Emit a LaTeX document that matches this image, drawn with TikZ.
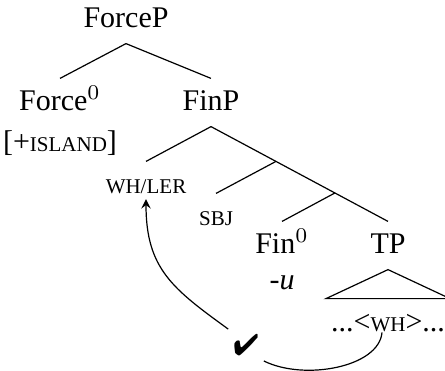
\documentclass[tikz,border=0pt]{standalone}
\usepackage{fontspec}
\setmainfont{Liberation Serif}
\usepackage{pifont}
\usepackage{tikz}
\usetikzlibrary{positioning,calc}
\newcommand{\fsc}[1]{{\fontsize{7pt}{8pt}\selectfont\MakeUppercase{#1}}}

\begin{document}
\begin{tikzpicture}[x=0.3333pt, y=-0.3333pt, node distance={2pt}, cat/.style = {anchor=base, text height=7pt, text depth=2pt}, feat/.style = {inner sep=0pt}]
    \useasboundingbox (0,0) rectangle (445,370);
    \node[cat] (forcep) at (126,27) {ForceP};
    \node[cat] (force0) at (60,110) {Force$^0$};
    \node[feat] (island) [below=1.3pt of force0] {[+\fsc{island}]};
    \node[cat] (finp) at (211,110) {FinP};
    \node[cat] (whler) at (146,193) {\fsc{wh/ler}};
    \node[cat] (sbj) at (216,225) {\fsc{sbj}};
    \node[cat] (fin0) at (282,253) {Fin$^0$};
    \node[feat] (u) [below=2pt of fin0] {-\textit{u}};
    \node[cat] (tp) at (388,253) {TP};
    \node[feat] (trace) at (388,323) {...<\fsc{wh}>...};
    \node[inner sep=1.5pt] (check) at (246,345) {\fontsize{10pt}{11pt}\selectfont\ding{52}};
    \coordinate (x1) at ($(finp.south)!0.367!(tp.north)$);
    \coordinate (x2) at ($(finp.south)!0.70!(tp.north)$);

    \draw (forcep.south) -- (force0.north);
    \draw (forcep.south) -- (finp.north);
    \draw (finp.south) -- (whler.north);
    \draw (finp.south) -- (tp.north);
    \draw (x1) -- (sbj.north);
    \draw (x2) -- (fin0.north);
    \draw (tp.south) -- ++(-62,29) -- ++(124,0) -- cycle;
    \draw[-stealth] (check.north west) .. controls +(-55,-40) and +(0,70) .. ([yshift=3.5pt]whler.south);
    \draw ([xshift=-2pt]trace.south) .. controls +(-3,35) and +(40,20) .. (check.south east);
  \end{tikzpicture}
\end{document}
